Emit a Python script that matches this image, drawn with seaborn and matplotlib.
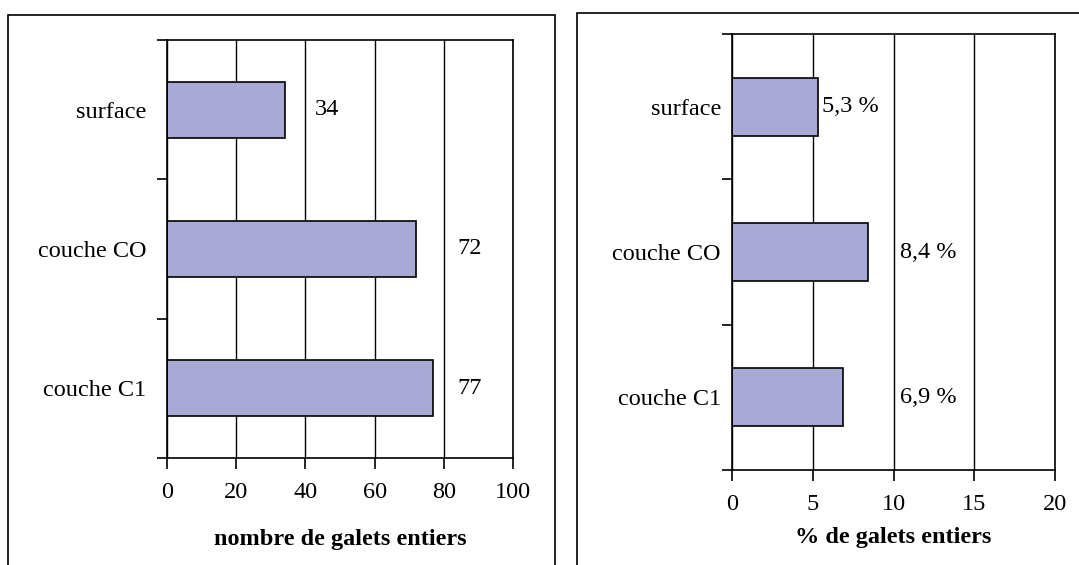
import matplotlib
matplotlib.use("Agg")
import matplotlib.pyplot as plt
from matplotlib.patches import Rectangle
from matplotlib.ticker import FixedLocator
import pandas as pd
import seaborn as sns

# Data
couches = ["surface", "couche CO", "couche C1"]
nombre_galets = [34, 72, 77]
pct_galets = [5.3, 8.4, 6.9]
pct_labels = ["5,3 %", "8,4 %", "6,9 %"]
nombre_ticks = [0, 20, 40, 60, 80, 100]
pct_ticks = [0, 5, 10, 15, 20]

sns.set_theme(style="white")
plt.rcParams["font.family"] = ["Liberation Serif", "DejaVu Serif"]
plt.rcParams["text.color"] = "black"
plt.rcParams["xtick.color"] = "black"
plt.rcParams["ytick.color"] = "black"
plt.rcParams["axes.labelcolor"] = "black"

BAR_COLOR = "#a9a9d6"
FS = 17.5

fig = plt.figure(figsize=(10.79, 5.65), dpi=100)

# Frames around each panel
fig.patches.append(Rectangle((0.0074, -0.05), 0.507, 1.0235, transform=fig.transFigure,
                             fill=False, edgecolor="black", linewidth=1.2))
fig.patches.append(Rectangle((0.5348, -0.05), 0.52, 1.027, transform=fig.transFigure,
                             fill=False, edgecolor="black", linewidth=1.2))

ax1 = fig.add_axes([0.1548, 0.1894, 0.3206, 0.7398])
ax2 = fig.add_axes([0.6784, 0.1681, 0.2994, 0.7717])

df1 = pd.DataFrame({"couche": couches, "valeur": nombre_galets})
df2 = pd.DataFrame({"couche": couches, "valeur": pct_galets})


def style_axis(ax, ticks, xlabel, ypad, xpad, labelpad):
    ax.set_xlim(ticks[0], ticks[-1])
    ax.set_ylim(len(couches) - 0.5, -0.5)
    ax.set_xticks(ticks)
    ax.set_xticklabels([str(t) for t in ticks], fontsize=FS)
    ax.xaxis.grid(True, color="black", linewidth=1.0)
    ax.yaxis.grid(False)
    ax.set_axisbelow(True)
    ax.tick_params(axis="x", direction="out", length=8, width=1.2, color="black",
                   pad=xpad, bottom=True)
    ax.tick_params(axis="y", which="major", length=0, pad=ypad, labelsize=FS)
    ax.yaxis.set_minor_locator(FixedLocator([-0.5, 0.5, 1.5, 2.5]))
    ax.tick_params(axis="y", which="minor", direction="out", length=7, width=1.2,
                   color="black", left=True)
    for s in ax.spines.values():
        s.set_visible(True)
        s.set_color("black")
        s.set_linewidth(1.2)
    ax.set_ylabel("")
    ax.set_xlabel(xlabel, fontsize=FS, fontweight="bold", labelpad=labelpad)


sns.barplot(data=df1, x="valeur", y="couche", orient="h", ax=ax1, color=BAR_COLOR,
            width=0.4, edgecolor="black", linewidth=1.2, saturation=1)
style_axis(ax1, nombre_ticks, "nombre de galets entiers", ypad=15, xpad=9, labelpad=19)

sns.barplot(data=df2, x="valeur", y="couche", orient="h", ax=ax2, color=BAR_COLOR,
            width=0.4, edgecolor="black", linewidth=1.2, saturation=1)
style_axis(ax2, pct_ticks, "% de galets entiers", ypad=8, xpad=9, labelpad=9)

# Value annotations
left_label_x = [42.8, 84.0, 84.0]
for i, v in enumerate(nombre_galets):
    ax1.text(left_label_x[i], i, str(v), ha="left", va="center", fontsize=FS, color="black")

right_label_x = [5.6, 10.4, 10.4]
for i, lab in enumerate(pct_labels):
    ax2.text(right_label_x[i], i, lab, ha="left", va="center", fontsize=FS, color="black")

fig.savefig("out.png", dpi=100)
